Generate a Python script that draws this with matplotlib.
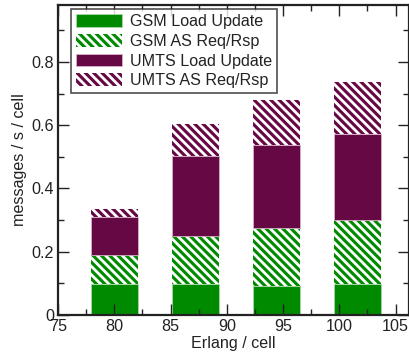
import matplotlib
matplotlib.use("Agg")
import matplotlib.pyplot as plt
from matplotlib.ticker import MultipleLocator
import numpy as np

plt.rcParams['font.family'] = ['Liberation Sans', 'DejaVu Sans']
plt.rcParams['hatch.linewidth'] = 2.0
plt.rcParams['hatch.color'] = 'white'

erlang = [80, 87.2, 94.4, 101.6]
gsm_lu = [0.098, 0.098, 0.092, 0.097]
gsm_as = [0.091, 0.152, 0.182, 0.203]
umts_lu = [0.122, 0.253, 0.264, 0.271]
umts_as = [0.023, 0.101, 0.142, 0.167]
labels = ["GSM Load Update", "GSM AS Req/Rsp", "UMTS Load Update", "UMTS AS Req/Rsp"]

green = '#008a00'
maroon = '#660844'
fs = 11.6

fig = plt.figure(figsize=(4.09, 3.58), dpi=100)
ax = fig.add_axes([0.142, 0.12, 0.858, 0.866])

w = 4.15
x = np.array(erlang)
b0 = np.zeros(4)
b1 = b0 + gsm_lu
b2 = b1 + gsm_as
b3 = b2 + umts_lu

ax.bar(x, gsm_lu, w, bottom=b0, color=green, edgecolor='#a8d8a8', linewidth=0.6, label=labels[0])
ax.bar(x, gsm_as, w, bottom=b1, color=green, edgecolor='white', hatch='\\\\\\\\', linewidth=0, label=labels[1])
ax.bar(x, umts_lu, w, bottom=b2, color=maroon, edgecolor='#d8b0c8', linewidth=0.6, label=labels[2])
ax.bar(x, umts_as, w, bottom=b3, color=maroon, edgecolor='white', hatch='\\\\\\\\', linewidth=0, label=labels[3])

ax.set_xlim(75, 106.2)
ax.set_ylim(0, 0.98)
ax.xaxis.set_major_locator(MultipleLocator(5))
ax.xaxis.set_minor_locator(MultipleLocator(2.5))
ax.yaxis.set_minor_locator(MultipleLocator(0.1))
ax.set_yticks([0, 0.2, 0.4, 0.6, 0.8])
ax.set_yticklabels(['0', '0.2', '0.4', '0.6', '0.8'])
ax.tick_params(which='both', direction='in', top=True, right=True, width=1, colors='#222222', labelcolor='#222222', labelsize=fs)
ax.tick_params(which='major', length=8, pad=3)
ax.tick_params(which='minor', length=4)
for s in ax.spines.values():
    s.set_linewidth(1.6)
    s.set_color('#222222')

ax.set_xlabel('Erlang / cell', fontsize=fs, color='#222222', labelpad=1.5)
ax.set_ylabel('messages / s / cell', fontsize=fs, color='#222222', labelpad=3)

leg = ax.legend(loc='upper left', bbox_to_anchor=(0.025, 1.0), fontsize=fs, frameon=True, fancybox=False,
                edgecolor='#222222', handlelength=2.85, handleheight=0.85, handletextpad=0.55,
                labelspacing=0.3, borderpad=0.3, borderaxespad=0.25)
leg.get_frame().set_linewidth(1.2)
for t in leg.get_texts():
    t.set_color('#222222')

fig.savefig('out.png', dpi=100)
